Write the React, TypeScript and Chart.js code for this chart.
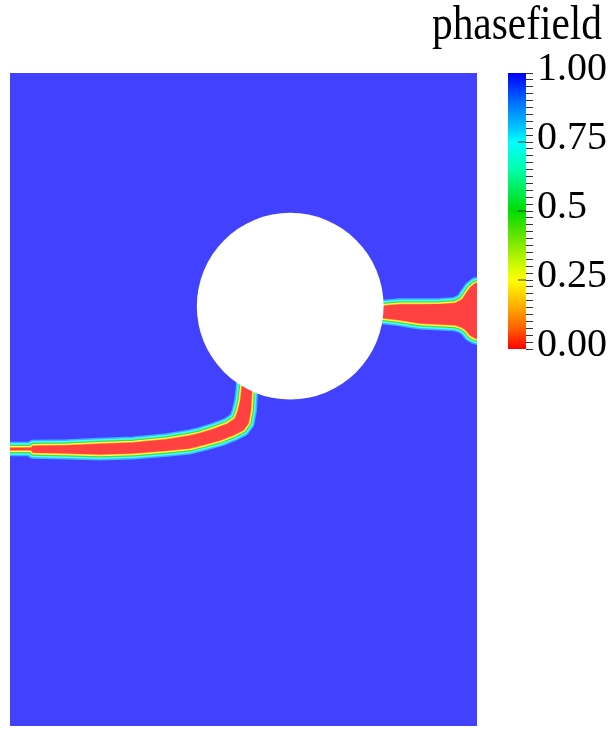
import React, { useEffect, useRef } from "react";
import { Chart, registerables } from "chart.js";

Chart.register(...registerables);

// ---- field domain (units: domain width = 1) ----
const domainXRange = [0, 1];
const domainYRange = [0, 1.4];
const domainCorners: number[][] = [[0, 0], [1, 0], [1, 1.4], [0, 1.4]];
const holeCenter = [0.6, 0.9];
const holeRadius = 0.2;

// crack outlines (phasefield ~ 0 core), upper edge then lower edge
const rightCrackUpper: number[][] = [
  [0.771, 0.899], [0.799, 0.901], [0.835, 0.904], [0.878, 0.904], [0.921, 0.905],
  [0.953, 0.907], [0.968, 0.915], [0.976, 0.927], [0.985, 0.94], [0.996, 0.949], [1.006, 0.951],
];
const rightCrackLower: number[][] = [
  [1.006, 0.829], [0.996, 0.831], [0.985, 0.837], [0.976, 0.848], [0.968, 0.854],
  [0.953, 0.859], [0.921, 0.861], [0.878, 0.863], [0.835, 0.87], [0.799, 0.874], [0.771, 0.874],
];
const leftCrackUpper: number[][] = [
  [-0.021, 0.596], [0.045, 0.597], [0.049, 0.601], [0.122, 0.602], [0.193, 0.605],
  [0.263, 0.608], [0.336, 0.615], [0.385, 0.623], [0.407, 0.628], [0.435, 0.637],
  [0.465, 0.648], [0.482, 0.66], [0.488, 0.677], [0.493, 0.698], [0.496, 0.724], [0.497, 0.752],
];
const leftCrackLower: number[][] = [
  [0.522, 0.752], [0.518, 0.713], [0.516, 0.677], [0.511, 0.649], [0.5, 0.634],
  [0.478, 0.623], [0.45, 0.612], [0.413, 0.602], [0.385, 0.595], [0.336, 0.59],
  [0.263, 0.584], [0.193, 0.582], [0.122, 0.584], [0.049, 0.586], [0.045, 0.591], [-0.021, 0.591],
];

// ---- colorbar ----
const colorbarTitle = "phasefield";
const colorbarRange = [0, 1];
const colorbarMinorStep = 0.025;
const colorbarTickValues = [0, 0.25, 0.5, 0.75, 1];
const colorbarTickLabels = ["0.00", "0.25", "0.5", "0.75", "1.00"];
const colorbarInnerTicks = [0.25, 0.5, 0.75];
const jetStops: [number, string][] = [
  [0, "#ff0000"], [0.07, "#ff5a00"], [0.15, "#ffaa00"], [0.25, "#ffff00"], [0.3, "#d2fa00"],
  [0.4, "#6ee600"], [0.5, "#00dc00"], [0.55, "#00e63c"], [0.65, "#00ffaa"], [0.75, "#00ffff"],
  [0.8, "#00c8ff"], [0.875, "#0082ff"], [0.95, "#0032ff"], [1, "#0000f0"],
];

// styles
const FIELD_BLUE = "#4141ff";
const FIELD_RED = "#ff4141";
const HOLE_COLOR = "#ffffff";
const fringeLayers = [
  { w: 1.5, c: "#ffbf41" },
  { w: 3.5, c: "#ffff41" },
  { w: 6, c: "#41e041" },
  { w: 9, c: "#41ffff" },
  { w: 12, c: "#41b0ff" },
];
const SERIF = "'Liberation Serif', 'Times New Roman', serif";

const toXY = (pts: number[][]) => pts.map(([x, y]) => ({ x, y }));

function crackDatasets(upper: number[][], lower: number[][]) {
  const pts = toXY([...upper, ...lower]);
  const core = {
    data: pts,
    fill: "shape",
    backgroundColor: FIELD_RED,
    borderWidth: 0,
    borderColor: "rgba(0,0,0,0)",
    pointRadius: 0,
  };
  const rims = fringeLayers.map((l) => ({
    data: pts,
    fill: false,
    borderColor: l.c,
    borderWidth: l.w,
    borderJoinStyle: "round",
    borderCapStyle: "round",
    pointRadius: 0,
  }));
  return [core, ...rims];
}

const noPlugins = { legend: { display: false }, tooltip: { enabled: false } };

export default function App() {
  const fieldRef = useRef<HTMLCanvasElement>(null);
  const barRef = useRef<HTMLCanvasElement>(null);
  const titleRef = useRef<HTMLCanvasElement>(null);

  useEffect(() => {
    const fieldChart = new Chart(fieldRef.current!, {
      type: "line",
      data: {
        datasets: [
          {
            data: [{ x: holeCenter[0], y: holeCenter[1] }],
            showLine: false,
            pointRadius: (c: any) => {
              const sx = c.chart.scales.x;
              return sx.getPixelForValue(holeCenter[0] + holeRadius) - sx.getPixelForValue(holeCenter[0]);
            },
            pointHoverRadius: 0,
            pointBackgroundColor: HOLE_COLOR,
            pointBorderWidth: 0,
            pointBorderColor: HOLE_COLOR,
          },
          ...crackDatasets(rightCrackUpper, rightCrackLower),
          ...crackDatasets(leftCrackUpper, leftCrackLower),
          {
            data: toXY(domainCorners),
            fill: "shape",
            backgroundColor: FIELD_BLUE,
            borderWidth: 0,
            borderColor: "rgba(0,0,0,0)",
            pointRadius: 0,
          },
        ] as any,
      },
      options: {
        animation: false,
        responsive: false,
        events: [],
        layout: { padding: 0 },
        elements: { line: { tension: 0 } },
        scales: {
          x: { type: "linear", min: domainXRange[0], max: domainXRange[1], display: false },
          y: { type: "linear", min: domainYRange[0], max: domainYRange[1], display: false },
        },
        plugins: { ...noPlugins, title: { display: false } },
      } as any,
    });

    const barChart = new Chart(barRef.current!, {
      type: "line",
      data: {
        datasets: [
          ...colorbarInnerTicks.map((v) => ({
            data: [{ x: 0.55, y: v }, { x: 1, y: v }],
            borderColor: "#333333",
            borderWidth: 1,
            pointRadius: 0,
            fill: false,
          })),
          {
            data: [{ x: 0, y: 0 }, { x: 1, y: 0 }, { x: 1, y: 1 }, { x: 0, y: 1 }],
            fill: "shape",
            borderWidth: 0,
            borderColor: "rgba(0,0,0,0)",
            pointRadius: 0,
            backgroundColor: (c: any) => {
              const area = c.chart.chartArea;
              if (!area) return "rgba(0,0,0,0)";
              const g = c.chart.ctx.createLinearGradient(0, area.bottom, 0, area.top);
              jetStops.forEach(([o, col]) => g.addColorStop(o, col));
              return g;
            },
          },
        ] as any,
      },
      options: {
        animation: false,
        responsive: false,
        events: [],
        layout: { padding: { left: 8, right: 0, top: 73, bottom: 31 } },
        scales: {
          x: { type: "linear", min: 0, max: 1, display: false },
          y: {
            type: "linear",
            position: "right",
            min: colorbarRange[0],
            max: colorbarRange[1],
            ticks: {
              stepSize: colorbarMinorStep,
              autoSkip: false,
              color: "#000",
              padding: 4,
              labelOffset: -4,
              font: { family: SERIF, size: 40, weight: "normal" },
              callback: (value: any) => {
                const i = colorbarTickValues.findIndex((v) => Math.abs(v - Number(value)) < 1e-6);
                return i >= 0 ? colorbarTickLabels[i] : "";
              },
            },
            grid: { drawOnChartArea: false, drawTicks: true, tickLength: 7, color: "#333333", lineWidth: 1 },
            border: { display: false },
            afterFit: (s: any) => {
              s.width = 87;
            },
          },
        },
        plugins: { ...noPlugins, title: { display: false } },
      } as any,
    });

    const titleChart = new Chart(titleRef.current!, {
      type: "line",
      data: { datasets: [] },
      options: {
        animation: false,
        responsive: false,
        events: [],
        layout: { padding: 0 },
        scales: {
          x: { type: "linear", display: false },
          y: { type: "linear", display: false },
        },
        plugins: {
          ...noPlugins,
          title: {
            display: true,
            text: colorbarTitle,
            color: "#000",
            font: { family: SERIF, size: 49, weight: "normal", lineHeight: 1 },
            padding: { top: 2, bottom: 22 },
          },
        },
      } as any,
    });

    return () => {
      fieldChart.destroy();
      barChart.destroy();
      titleChart.destroy();
    };
  }, []);

  return (
    <div style={{ position: "absolute", left: 0, top: 0, width: 613, height: 733, background: "#fff" }}>
      <canvas ref={fieldRef} width={467} height={653} style={{ position: "absolute", left: 10, top: 73 }} />
      <canvas ref={titleRef} width={170} height={80} style={{ position: "absolute", left: 432, top: 0 }} />
      <canvas ref={barRef} width={113} height={380} style={{ position: "absolute", left: 500, top: 0 }} />
    </div>
  );
}
